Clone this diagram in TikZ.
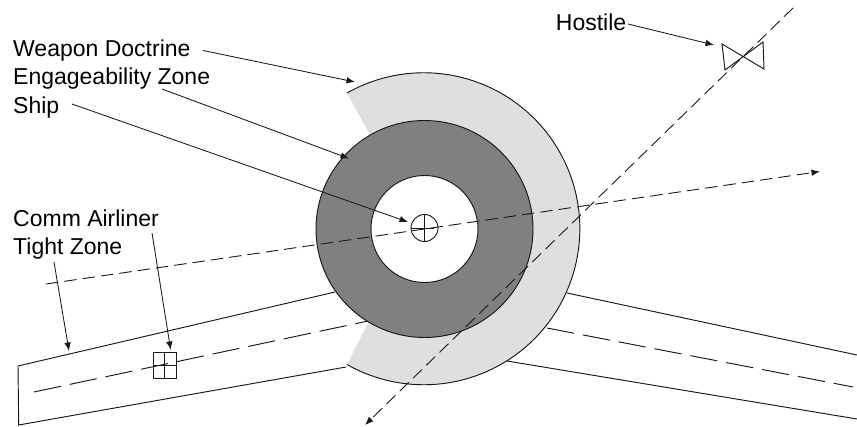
\documentclass[tikz,border=0pt]{standalone}
\usepackage{fontspec}
\setmainfont{Liberation Sans}
\usetikzlibrary{arrows.meta}
\definecolor{lightzone}{HTML}{DFDFDF}
\definecolor{darkzone}{HTML}{808080}
\tikzset{
  ln/.style={line width=0.95pt,draw=black!90},
  lead/.style={ln,line width=0.85pt,-{Latex[length=8.5pt,width=6.5pt]}},
  thindash/.style={ln,line width=0.9pt,dash pattern=on 12.5pt off 6pt},
  longdash/.style={ln,dash pattern=on 27.5pt off 9pt},
  lbl/.style={anchor=base west,inner sep=0pt,font=\fontsize{23}{28}\selectfont,text=black}
}
\begin{document}
\begin{tikzpicture}[x=1pt,y=-1pt,line join=miter]
\useasboundingbox (0,0) rectangle (857,426);
% named points
\coordinate (c) at (424.5,229);
\coordinate (tl) at (18,366);
\coordinate (bl) at (18.7,425);
\coordinate (tlend) at (335,292);
\coordinate (blend) at (346,367);
\coordinate (tr) at (857,355);
\coordinate (trstart) at (567,293);
\coordinate (br) at (857,419);
\coordinate (brstart) at (507,361);
\coordinate (midl) at (34,392);
\coordinate (midlend) at (368,321);
\coordinate (midr) at (547,328);
\coordinate (midrend) at (853,387);
\coordinate (sa) at (347,93);
\coordinate (sb) at (369,133);
\coordinate (sc) at (368,323);
% corridor
\draw[ln] (tlend) -- (tl) -- (bl) -- (blend);
\draw[ln] (trstart) -- (tr);
\draw[ln] (brstart) -- (br);
\draw[longdash] (midl) -- (midlend);
\draw[longdash] (midr) -- (midrend);
% zones
\fill[lightzone] (sa) arc[start angle=119.5,end angle=-119.5,radius=156pt] -- (sc) -- (sb) -- cycle;
\draw[ln] (sa) arc[start angle=119.5,end angle=-119.5,radius=156pt];
\draw[ln,fill=darkzone] (c) circle[radius=108.5pt];
\draw[ln,fill=white] (c) circle[radius=53.5pt];
% ship symbol
\node[circle,draw=black!90,line width=0.95pt,fill=none,minimum size=27pt,inner sep=0pt] (ship) at (424.5,228) {};
\coordinate (shipR) at (433.5,228);
\draw[ln] (ship.north) -- (ship.south);
\draw[ln] (ship.west) -- (shipR);
% airliner symbol
\node[draw=black!90,line width=0.95pt,minimum width=23pt,minimum height=26pt,inner sep=0pt] (air) at (164.5,365) {};
\draw[ln] (air.north) -- (air.south);
\draw[ln] (air.west) -- (air.east);
% hostile symbol
\coordinate (h1) at (722,44);
\coordinate (h2) at (764,69);
\coordinate (h3) at (763,42);
\coordinate (h4) at (725,70);
\draw[ln] (h1) -- (h2) -- (h3) -- (h4) -- cycle;
% tracks
\coordinate (trkA) at (793,8);
\coordinate (trkAend) at (365,425);
\coordinate (trkB) at (46,284);
\coordinate (trkBend) at (820,171.5);
\draw[thindash,-{Latex[length=8.5pt,width=6.5pt]}] (trkA) -- (trkAend);
\draw[thindash,-{Latex[length=8.5pt,width=6.5pt]}] (trkB) -- (trkBend);
% labels
\node[lbl] (wd) at (13,56) {Weapon Doctrine};
\node[lbl] (ez) at (13,84) {Engageability Zone};
\node[lbl] (sh) at (13,113) {Ship};
\node[lbl] (ca) at (13,226) {Comm Airliner};
\node[lbl] (tz) at (13,254) {Tight Zone};
\node[lbl] (ho) at (555.7,30) {Hostile};
% leaders
\coordinate (wdS) at (203,50.5);
\coordinate (wdE) at (355,82);
\coordinate (ezS) at (162,89);
\coordinate (ezE) at (349,158.5);
\coordinate (shS) at (72,104);
\coordinate (shE) at (408,222);
\coordinate (hoS) at (628,24);
\coordinate (hoE) at (714,45);
\coordinate (tzS) at (54,262);
\coordinate (tzE) at (69,351);
\coordinate (caS) at (152,233);
\coordinate (caE) at (170.7,350);
\draw[lead] (wdS) -- (wdE);
\draw[lead] (ezS) -- (ezE);
\draw[lead] (shS) -- (shE);
\draw[lead] (hoS) -- (hoE);
\draw[lead] (tzS) -- (tzE);
\draw[lead] (caS) -- (caE);
\end{tikzpicture}
\end{document}
